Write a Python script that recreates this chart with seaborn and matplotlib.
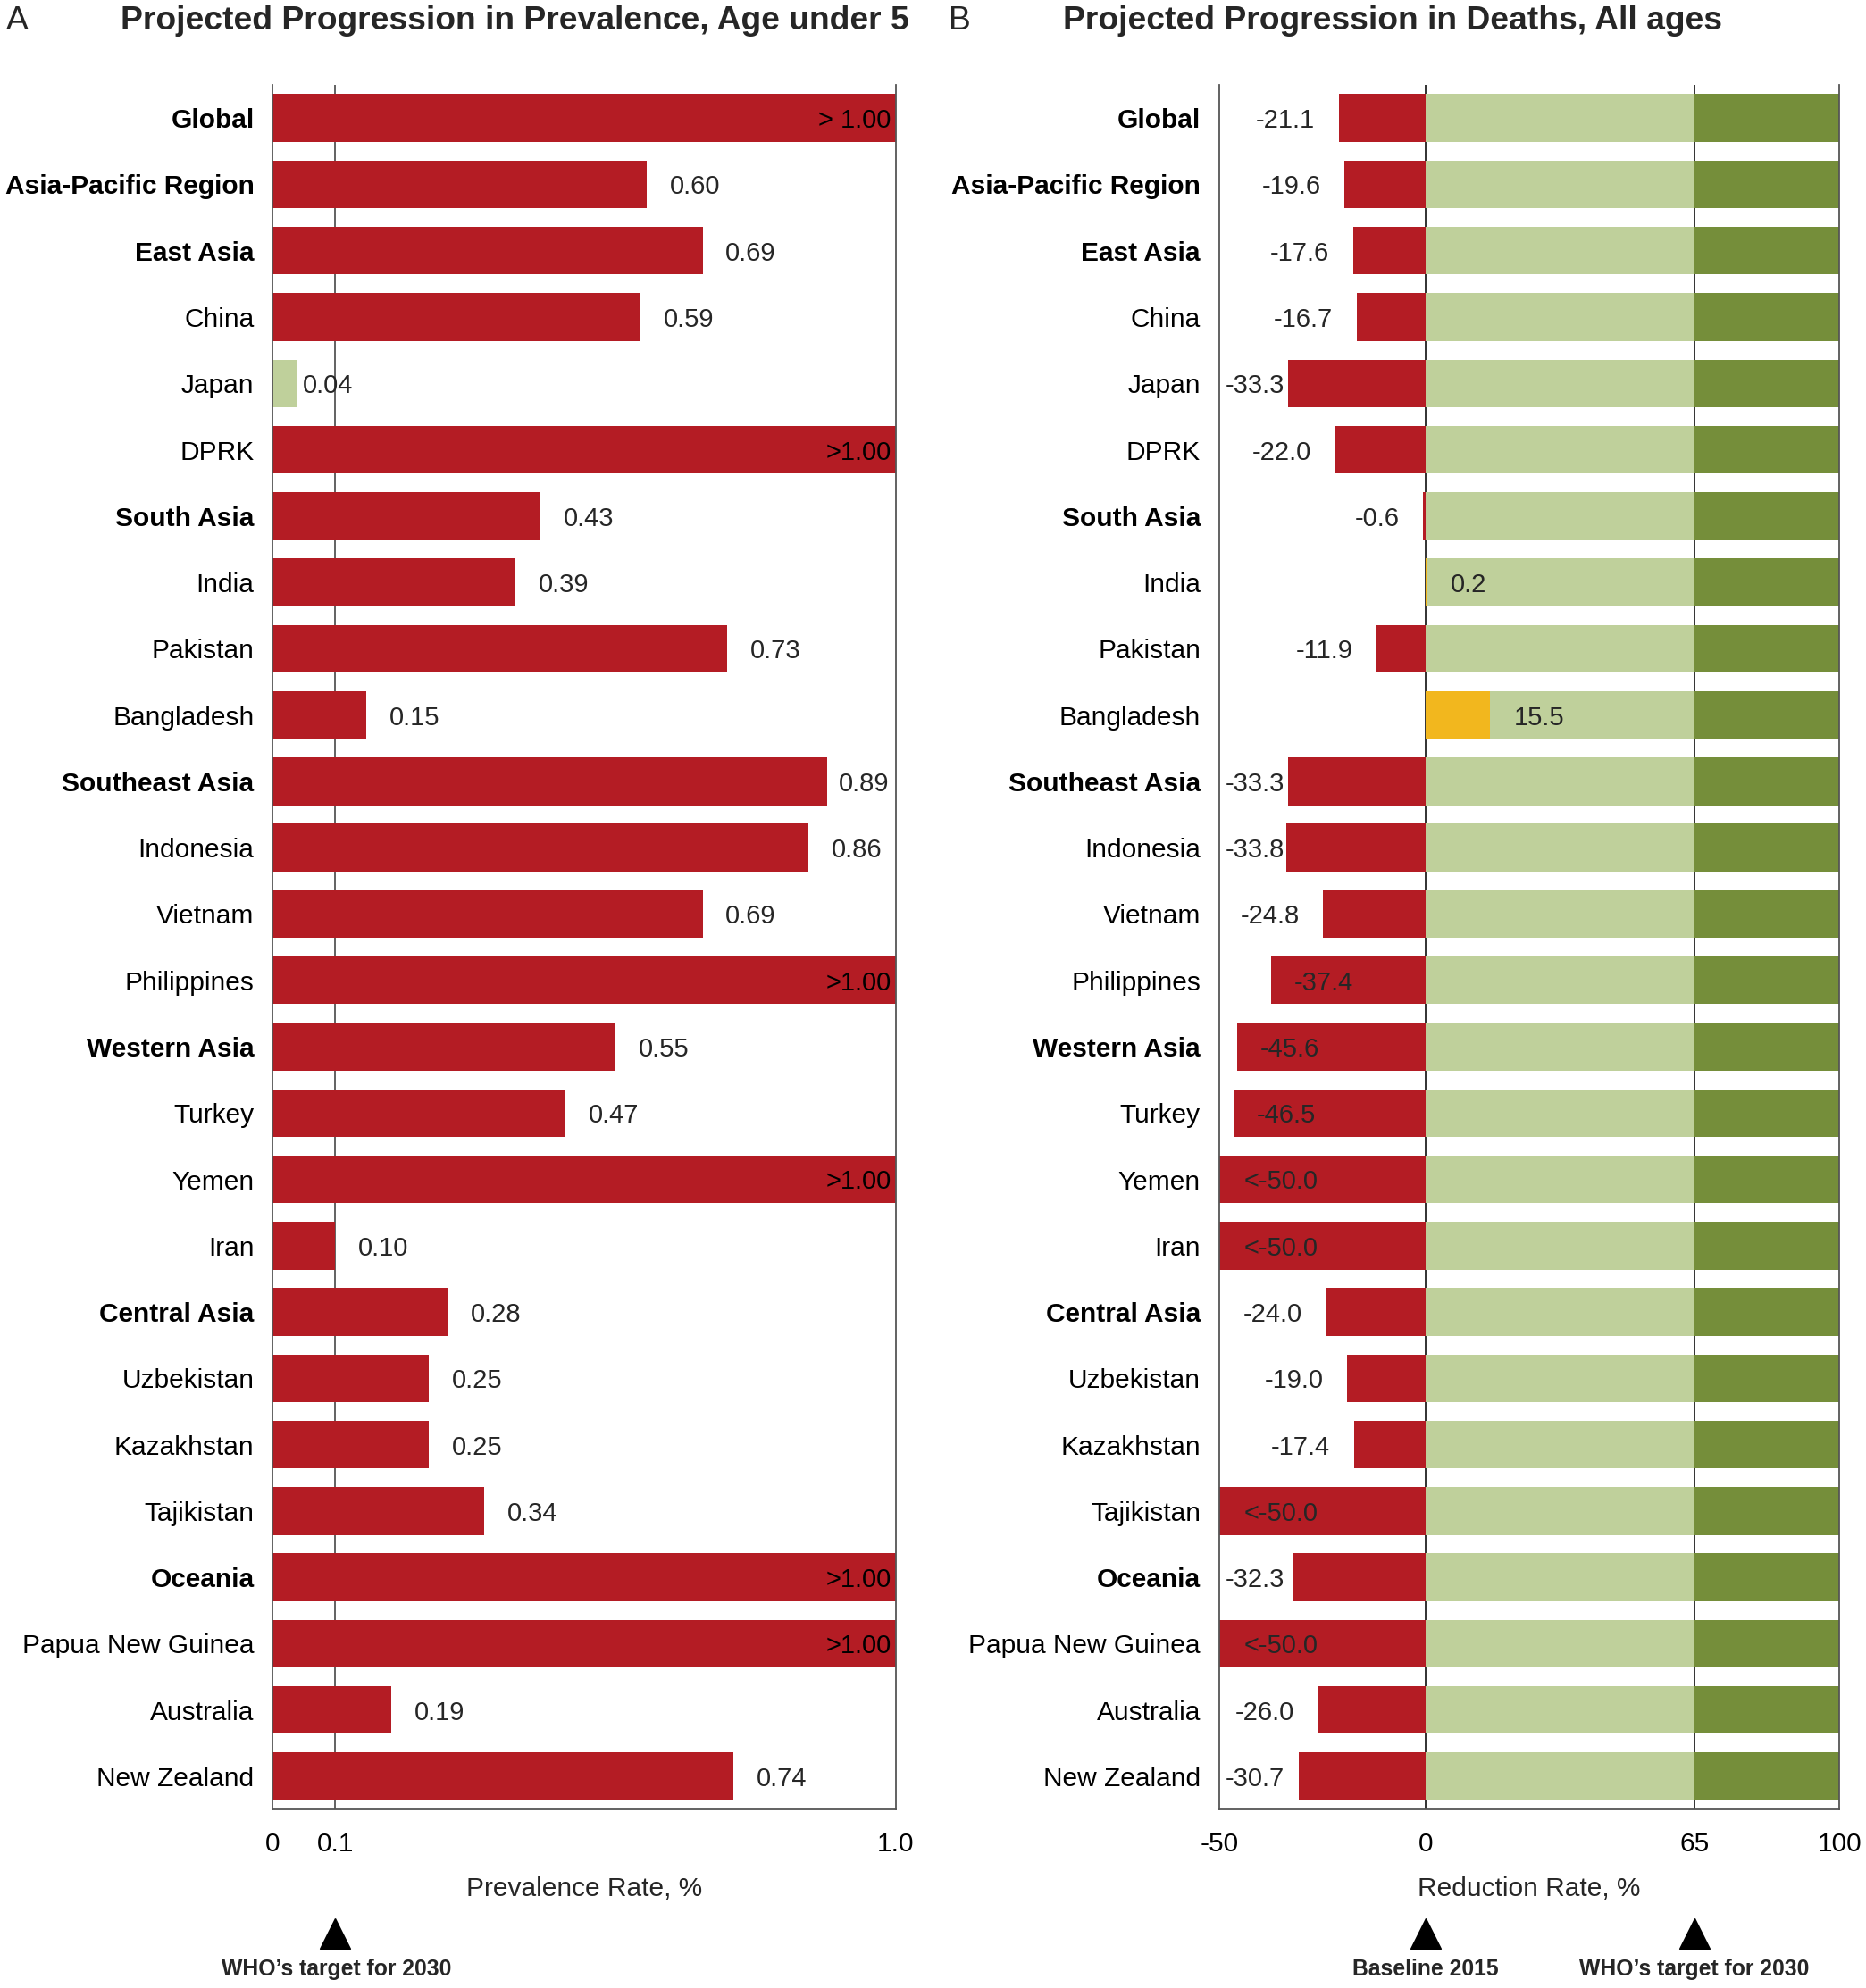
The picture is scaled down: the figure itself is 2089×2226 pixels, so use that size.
import numpy as np
import pandas as pd
import matplotlib
matplotlib.use("Agg")
import matplotlib.pyplot as plt
import seaborn as sns
from matplotlib import font_manager as fm

# ---------------- data ----------------
regions = ["Global", "Asia-Pacific Region", "East Asia", "China", "Japan", "DPRK",
           "South Asia", "India", "Pakistan", "Bangladesh", "Southeast Asia",
           "Indonesia", "Vietnam", "Philippines", "Western Asia", "Turkey", "Yemen",
           "Iran", "Central Asia", "Uzbekistan", "Kazakhstan", "Tajikistan",
           "Oceania", "Papua New Guinea", "Australia", "New Zealand"]
bold_regions = ["Global", "Asia-Pacific Region", "East Asia", "South Asia",
                "Southeast Asia", "Western Asia", "Central Asia", "Oceania"]

# prevalence (%), np.inf = beyond 1.00
prevalence = [np.inf, 0.60, 0.69, 0.59, 0.04, np.inf, 0.43, 0.39, 0.73, 0.15,
              0.89, 0.86, 0.69, np.inf, 0.55, 0.47, np.inf, 0.10, 0.28, 0.25,
              0.25, 0.34, np.inf, np.inf, 0.19, 0.74]
prevalence_labels = ["> 1.00", "0.60", "0.69", "0.59", "0.04", ">1.00", "0.43",
                     "0.39", "0.73", "0.15", "0.89", "0.86", "0.69", ">1.00",
                     "0.55", "0.47", ">1.00", "0.10", "0.28", "0.25", "0.25",
                     "0.34", ">1.00", ">1.00", "0.19", "0.74"]

# reduction rate of deaths (%), -np.inf = below -50
deaths_change = [-21.1, -19.6, -17.6, -16.7, -33.3, -22.0, -0.6, 0.2, -11.9, 15.5,
                 -33.3, -33.8, -24.8, -37.4, -45.6, -46.5, -np.inf, -np.inf, -24.0,
                 -19.0, -17.4, -np.inf, -32.3, -np.inf, -26.0, -30.7]
deaths_labels = ["-21.1", "-19.6", "-17.6", "-16.7", "-33.3", "-22.0", "-0.6", "0.2",
                 "-11.9", "15.5", "-33.3", "-33.8", "-24.8", "-37.4", "-45.6",
                 "-46.5", "<-50.0", "<-50.0", "-24.0", "-19.0", "-17.4", "<-50.0",
                 "-32.3", "<-50.0", "-26.0", "-30.7"]

prev_target = 0.1
baseline_2015 = 0
who_target_deaths = 65
reduction_max = 100

RED = "#B41C24"
LIGHT = "#BFD09B"
DARK = "#758E3A"
ORANGE = "#F2B71E"
LINE = "#555555"

# ---------------- style ----------------
sns.set_theme(style="white")
plt.rcParams['font.family'] = ['Liberation Sans', 'DejaVu Sans']
names = {f.name for f in fm.fontManager.ttflist}
if 'Liberation Sans Narrow' in names:
    COND = ['Liberation Sans Narrow', 'Liberation Sans', 'DejaVu Sans']
else:
    COND = ['Liberation Sans', 'DejaVu Sans']

TICK_FS = 21.5
VAL_FS = 21
DY = 0.04  # small downward nudge of value labels (rows)

fig = plt.figure(figsize=(20.89, 22.26), dpi=100)
axA = fig.add_axes([0.1462, 0.0898, 0.3338, 0.8675])
axB = fig.add_axes([0.6533, 0.0898, 0.3324, 0.8675])

# ---------------- panel A ----------------
dfA = pd.DataFrame({
    "region": regions,
    "value": np.minimum(np.array(prevalence, dtype=float), 1.0),
    "status": ["below" if v < prev_target else "above" for v in prevalence],
})
sns.barplot(data=dfA, x="value", y="region", hue="status", order=regions,
            palette={"above": RED, "below": LIGHT}, dodge=False, width=0.72,
            saturation=1, errorbar=None, legend=False, linewidth=0, ax=axA, zorder=2)
axA.axvline(prev_target, color=LINE, lw=1.3, zorder=0)

# ---------------- panel B ----------------
dfB = pd.DataFrame({
    "region": regions,
    "value": np.maximum(np.array(deaths_change, dtype=float), -50.0),
    "sign": ["pos" if v > 0 else "neg" for v in deaths_change],
    "band_max": [reduction_max] * len(regions),
    "band_target": [who_target_deaths] * len(regions),
})
sns.barplot(data=dfB, x="band_max", y="region", order=regions, color=DARK,
            width=0.72, saturation=1, errorbar=None, linewidth=0, ax=axB, zorder=2)
sns.barplot(data=dfB, x="band_target", y="region", order=regions, color=LIGHT,
            width=0.72, saturation=1, errorbar=None, linewidth=0, ax=axB, zorder=2)
sns.barplot(data=dfB, x="value", y="region", hue="sign", order=regions,
            palette={"neg": RED, "pos": ORANGE}, dodge=False, width=0.72,
            saturation=1, errorbar=None, legend=False, linewidth=0, ax=axB, zorder=2)
axB.axvline(baseline_2015, color="#222222", lw=1.3, zorder=0)
axB.axvline(who_target_deaths, color="#222222", lw=1.3, zorder=0)

# ---------------- axes formatting ----------------
for ax in (axA, axB):
    ax.set_ylim(len(regions) - 0.5, -0.5)
    ax.set_ylabel("")
    ax.set_yticks(range(len(regions)))
    ax.set_yticklabels(regions)
    for lab in ax.get_yticklabels():
        if lab.get_text() in bold_regions:
            lab.set_fontweight("bold")
    ax.tick_params(axis="both", length=0, labelsize=TICK_FS, colors="black")
    ax.tick_params(axis="y", pad=15)
    ax.tick_params(axis="x", pad=18)
    ax.spines["top"].set_visible(False)
    for s in ("left", "right", "bottom"):
        ax.spines[s].set_color(LINE)
        ax.spines[s].set_linewidth(1.3)
    ax.grid(False)

axA.set_xlim(0, 1.0)
axA.set_xticks([0, 0.1, 1.0])
axA.set_xticklabels(["0", "0.1", "1.0"])
axA.set_xlabel("Prevalence Rate, %", fontsize=TICK_FS, labelpad=16)

axB.set_xlim(-50, 100)
axB.set_xticks([-50, 0, 65, 100])
axB.set_xticklabels(["-50", "0", "65", "100"])
axB.set_xlabel("Reduction Rate, %", fontsize=TICK_FS, labelpad=16)

renderer = fig.canvas.get_renderer()
axA_w = axA.get_window_extent(renderer).width
axB_w = axB.get_window_extent(renderer).width

# value labels panel A
for i, (v, lab) in enumerate(zip(prevalence, prevalence_labels)):
    y = i + DY
    if np.isinf(v):
        axA.text(0.993, y, lab, ha="right", va="center", fontsize=VAL_FS, color="black", zorder=5)
    else:
        gap = 0.008 if v < prev_target else 0.037
        t = axA.text(v + gap, y, lab, ha="left", va="center", fontsize=VAL_FS, zorder=5)
        w = t.get_window_extent(renderer).width / axA_w * 1.0
        if v + gap + w > 0.99:
            t.set_x(0.99 - w)

# value labels panel B
for i, (v, lab) in enumerate(zip(deaths_change, deaths_labels)):
    y = i + DY
    if np.isinf(v):
        axB.text(-44, y, lab, ha="left", va="center", fontsize=VAL_FS, zorder=5)
    elif v > 0:
        axB.text(v + 5.8, y, lab, ha="left", va="center", fontsize=VAL_FS, zorder=5)
    elif v < -35:
        axB.text(v + 5.5, y, lab, ha="left", va="center", fontsize=VAL_FS, zorder=5)
    else:
        t = axB.text(v - 5.8, y, lab, ha="right", va="center", fontsize=VAL_FS, zorder=5)
        w = t.get_window_extent(renderer).width / axB_w * 150
        if v - 5.8 - w < -48.5:
            t.set_ha("left")
            t.set_x(-48.5)

# bottom markers
def fit(t, target_px):
    w = t.get_window_extent(renderer).width
    t.set_fontsize(t.get_fontsize() * target_px / w)

tA = axA.get_xaxis_transform()
tB = axB.get_xaxis_transform()
axA.plot([prev_target], [-0.072], marker="^", ms=24, color="black", transform=tA, clip_on=False)
axB.plot([baseline_2015], [-0.072], marker="^", ms=24, color="black", transform=tB, clip_on=False)
axB.plot([who_target_deaths], [-0.072], marker="^", ms=24, color="black", transform=tB, clip_on=False)

n1 = axA.text(prev_target + 0.002, -0.0925, "WHO\u2019s target for 2030", transform=tA, ha="center",
              va="center", fontsize=18, fontweight="bold", family=COND, clip_on=False)
fit(n1, 258)
fs_note = n1.get_fontsize()
axB.text(baseline_2015, -0.0925, "Baseline 2015", transform=tB, ha="center", va="center",
         fontsize=fs_note, fontweight="bold", family=COND, clip_on=False)
axB.text(who_target_deaths, -0.0925, "WHO\u2019s target for 2030", transform=tB, ha="center",
         va="center", fontsize=fs_note, fontweight="bold", family=COND, clip_on=False)

# titles
ttlA = fig.text(0.0646, 0.9895, "Projected Progression in Prevalence, Age under 5",
                ha="left", va="center", fontsize=30, fontweight="bold", family=COND)
fit(ttlA, 883)
fig.text(0.5697, 0.9895, "Projected Progression in Deaths, All ages",
         ha="left", va="center", fontsize=ttlA.get_fontsize(), fontweight="bold", family=COND)
fig.text(0.0034, 0.9895, "A", ha="left", va="center", fontsize=ttlA.get_fontsize(), family=COND)
fig.text(0.5085, 0.9895, "B", ha="left", va="center", fontsize=ttlA.get_fontsize(), family=COND)

fig.savefig("out.png", dpi=100)
